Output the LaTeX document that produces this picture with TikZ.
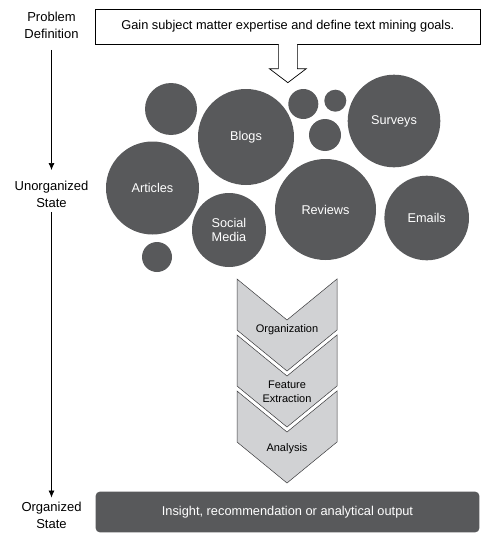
\documentclass[tikz,border=0pt]{standalone}
\usepackage{fontspec}
\setmainfont{Liberation Sans}
\usetikzlibrary{arrows,arrows.meta,calc}

\definecolor{blobgray}{HTML}{58595B}
\definecolor{chevgray}{HTML}{D1D2D4}
\definecolor{chevline}{HTML}{3A3A3C}

\begin{document}
\begin{tikzpicture}[x=1pt,y=-1pt,
  blob/.style={circle,fill=blobgray,text=white,inner sep=0pt,align=center,
    font=\fontsize{12.7}{14.5}\selectfont},
  stage/.style={align=center,inner sep=0pt,font=\fontsize{13}{17}\selectfont},
  chev/.style={fill=chevgray,draw=chevline,line width=0.5pt}]
\useasboundingbox (0,0) rectangle (497,543);

\node[stage] (P) at (51.5,25.5) {Problem\\Definition};
\node[stage] (U) at (51.5,194.5) {Unorganized\\State};
\node[stage] (O) at (51.5,515) {Organized\\State};

\path[-{Latex[length=7pt,width=6pt]},line width=0.7pt]
	(P) edge[shorten <=11pt,shorten >=11pt] (U)
	(U) edge[shorten <=4pt,shorten >=4pt] (O);

% goal box and block arrow
\node[draw,line width=0.7pt,minimum width=384.3pt,minimum height=35.3pt,inner sep=0pt,
  font=\fontsize{12.8}{15}\selectfont] (G) at (287.85,26.65)
  {Gain subject matter expertise and define text mining goals.};
\draw[fill=white,line width=0.7pt] ($(G.south)+(-9.5,0)$) -- ++(0,24) -- ++(-9,0)
  -- ($(G.south)+(0,38)$) -- ($(G.south)+(18.5,24)$) -- ++(-9,0) -- ++(0,-24);
\fill[white] ($(G.south)+(-9.1,-0.6)$) rectangle ($(G.south)+(9.1,0.6)$);

% sources
\node[blob,minimum size=52pt] (d1) at (171,109) {};
\node[blob,minimum size=96pt] (B) at (246,137) {Blogs};
\node[blob,minimum size=93pt] (A) at (152.5,188) {Articles};
\node[blob,minimum size=74pt] (S) at (229,230) {Social\\Media};
\node[blob,minimum size=30pt] (d2) at (157,257) {};
\node[blob,minimum size=101pt] (R) at (325.5,209.5) {Reviews};
\node[blob,minimum size=84.6pt] (E) at (426.7,218) {Emails};
\node[blob,minimum size=92.6pt] (V) at (394,121) {Surveys};
\node[blob,minimum size=30pt] (d3) at (303.3,104) {};
\node[blob,minimum size=22pt] (d4) at (335.3,100.7) {};
\node[blob,minimum size=32pt] (d5) at (325,135) {};

% process steps
\foreach \txt/\dy [count=\i from 0] in {Organization/51,{Feature\\Extraction}/57,Analysis/58}{
  \pgfmathsetmacro\yt{279+56*\i}
  \draw[chev] (237,\yt) -- (287,\yt+41) -- (337,\yt) -- (337,\yt+51)
    -- (287,\yt+92) -- (237,\yt+51) -- cycle;
  \node[align=center,font=\fontsize{11}{14}\selectfont] (C\i) at (287,\yt+\dy) {\txt};
}

\node[fill=blobgray,rounded corners=4pt,minimum width=383.6pt,minimum height=40.6pt,
  text=white,font=\fontsize{12.8}{15}\selectfont] (I) at (287.5,512)
  {Insight, recommendation or analytical output};

\end{tikzpicture}
\end{document}
